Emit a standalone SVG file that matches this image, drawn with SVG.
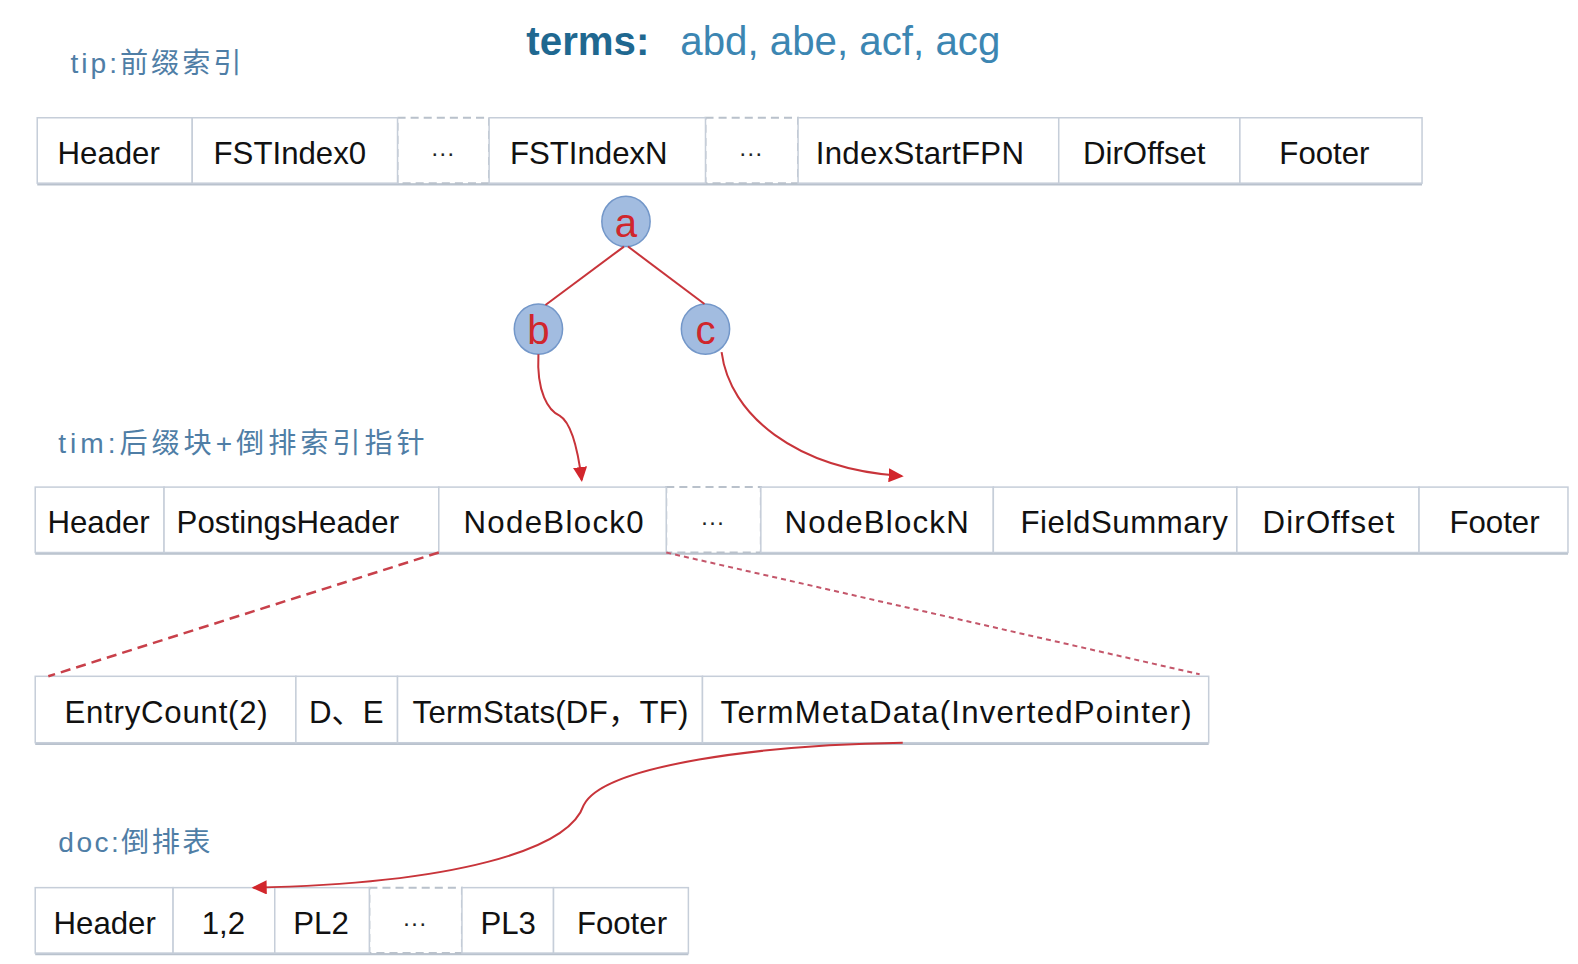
<svg xmlns="http://www.w3.org/2000/svg" width="1578" height="964" viewBox="0 0 1578 964">
<defs>
<style>
.cell{fill:#ffffff;stroke:#c6ced9;stroke-width:1.5}
.dash{fill:#ffffff;stroke:#b9c1cb;stroke-width:2;stroke-dasharray:8 5}
.shadow{stroke:#b9c2cd;stroke-width:2.5}
.t{font-family:"Liberation Sans","Noto Sans CJK SC",sans-serif;font-size:31px;fill:#111111;text-anchor:middle}
.dots{font-family:"Liberation Sans",sans-serif;font-size:24px;fill:#222222;text-anchor:middle}
.lbl{font-family:"Liberation Sans","Noto Sans CJK SC",sans-serif;font-size:28px;fill:#4f7ea6;letter-spacing:3px}
.node{fill:#a2bce0;stroke:#7397c9;stroke-width:1.5}
.ltr{font-family:"Liberation Sans",sans-serif;font-size:40px;fill:#d0262c;text-anchor:middle}
.red{fill:none;stroke:#c8343a;stroke-width:2}
</style>
<marker id="ah" markerWidth="16" markerHeight="14" refX="13" refY="7" orient="auto" markerUnits="userSpaceOnUse">
<path d="M0,0 L15,7 L0,14 Z" fill="#d2262c"/>
</marker>
</defs>
<rect width="1578" height="964" fill="#ffffff"/>
<g transform="scale(1.0064)">
<g id="title">
<text x="523" y="55" font-family="Liberation Sans,sans-serif" font-size="40"><tspan font-weight="bold" fill="#1f6890">terms:</tspan><tspan x="676" fill="#3c86b2">abd, abe, acf, acg</tspan></text>
</g>
<g id="label-tip"><text class="lbl" x="70" y="73" textLength="173">tip:前缀索引</text></g>
<g id="label-tim"><text class="lbl" x="58" y="450" textLength="367">tim:后缀块+倒排索引指针</text></g>
<g id="label-doc"><text class="lbl" x="58" y="847" textLength="154">doc:倒排表</text></g>

<g id="tip-row">
<line class="shadow" x1="37" y1="183" x2="1413" y2="183"/>
<rect class="dash" x="395" y="117" width="91" height="65"/>
<rect class="dash" x="701" y="117" width="92" height="65"/>
<rect class="cell" x="37" y="117" width="154" height="65"/>
<rect class="cell" x="191" y="117" width="204" height="65"/>
<rect class="cell" x="486" y="117" width="215" height="65"/>
<rect class="cell" x="793" y="117" width="259" height="65"/>
<rect class="cell" x="1052" y="117" width="180" height="65"/>
<rect class="cell" x="1232" y="117" width="181" height="65"/>
<text class="t" x="108" y="163">Header</text>
<text class="t" x="288" y="163">FSTIndex0</text>
<text class="dots" x="440" y="160">···</text>
<text class="t" x="585" y="163">FSTIndexN</text>
<text class="dots" x="746" y="160">···</text>
<text class="t" x="914" y="163" textLength="207">IndexStartFPN</text>
<text class="t" x="1137" y="163">DirOffset</text>
<text class="t" x="1316" y="163">Footer</text>
</g>

<g id="node-a"><ellipse class="node" cx="622" cy="220" rx="24" ry="25"/><text class="ltr" x="622" y="235">a</text></g>
<g id="node-b"><ellipse class="node" cx="535" cy="327" rx="24" ry="25"/><text class="ltr" x="535" y="342">b</text></g>
<g id="node-c"><ellipse class="node" cx="701" cy="327" rx="24" ry="25"/><text class="ltr" x="701" y="342">c</text></g>

<g id="tim-row">
<line class="shadow" x1="35" y1="550" x2="1558" y2="550"/>
<rect class="dash" x="662" y="484" width="94" height="65"/>
<rect class="cell" x="35" y="484" width="128" height="65"/>
<rect class="cell" x="163" y="484" width="273" height="65"/>
<rect class="cell" x="436" y="484" width="226" height="65"/>
<rect class="cell" x="756" y="484" width="231" height="65"/>
<rect class="cell" x="987" y="484" width="242" height="65"/>
<rect class="cell" x="1229" y="484" width="181" height="65"/>
<rect class="cell" x="1410" y="484" width="148" height="65"/>
<text class="t" x="98" y="530">Header</text>
<text class="t" x="286" y="530" textLength="221">PostingsHeader</text>
<text class="t" x="550" y="530" textLength="179">NodeBlock0</text>
<text class="dots" x="708" y="527">···</text>
<text class="t" x="871" y="530" textLength="183">NodeBlockN</text>
<text class="t" x="1117" y="530" textLength="206">FieldSummary</text>
<text class="t" x="1320" y="530" textLength="131">DirOffset</text>
<text class="t" x="1485" y="530">Footer</text>
</g>

<g id="block-row">
<line class="shadow" x1="35" y1="739" x2="1201" y2="739"/>
<rect class="cell" x="35" y="672" width="259" height="66"/>
<rect class="cell" x="294" y="672" width="101" height="66"/>
<rect class="cell" x="395" y="672" width="303" height="66"/>
<rect class="cell" x="698" y="672" width="503" height="66"/>
<text class="t" x="165" y="718" textLength="202">EntryCount(2)</text>
<text class="t" x="344" y="718">D、E</text>
<text class="t" x="547" y="718" textLength="274">TermStats(DF，TF)</text>
<text class="t" x="950" y="718" textLength="468">TermMetaData(InvertedPointer)</text>
</g>

<g id="doc-row">
<line class="shadow" x1="35" y1="948" x2="684" y2="948"/>
<rect class="dash" x="367" y="882" width="92" height="65"/>
<rect class="cell" x="35" y="882" width="137" height="65"/>
<rect class="cell" x="172" y="882" width="101" height="65"/>
<rect class="cell" x="273" y="882" width="94" height="65"/>
<rect class="cell" x="459" y="882" width="91" height="65"/>
<rect class="cell" x="550" y="882" width="134" height="65"/>
<text class="t" x="104" y="928">Header</text>
<text class="t" x="222" y="928">1,2</text>
<text class="t" x="319" y="928">PL2</text>
<text class="dots" x="412" y="925">···</text>
<text class="t" x="505" y="928">PL3</text>
<text class="t" x="618" y="928">Footer</text>
</g>

<g id="connectors">
<line class="red" x1="620" y1="245" x2="542" y2="303"/>
<line class="red" x1="624" y1="245" x2="700" y2="302"/>
<path class="red" d="M535,352 C533,390 545,408 556,413 C568,420 574,445 578,477" marker-end="url(#ah)"/>
<path class="red" d="M717,350 C725,412 790,466 896,473" marker-end="url(#ah)"/>
<line x1="436" y1="549" x2="48" y2="672" stroke="#c8404a" stroke-width="2.5" stroke-dasharray="10 6"/>
<line x1="662" y1="549" x2="1192" y2="670" stroke="#c4566a" stroke-width="2" stroke-dasharray="5 4"/>
<path class="red" d="M897,738 C760,740 600,760 580,800 C565,845 450,878 252,882" marker-end="url(#ah)"/>
</g>
</g>
</svg>
